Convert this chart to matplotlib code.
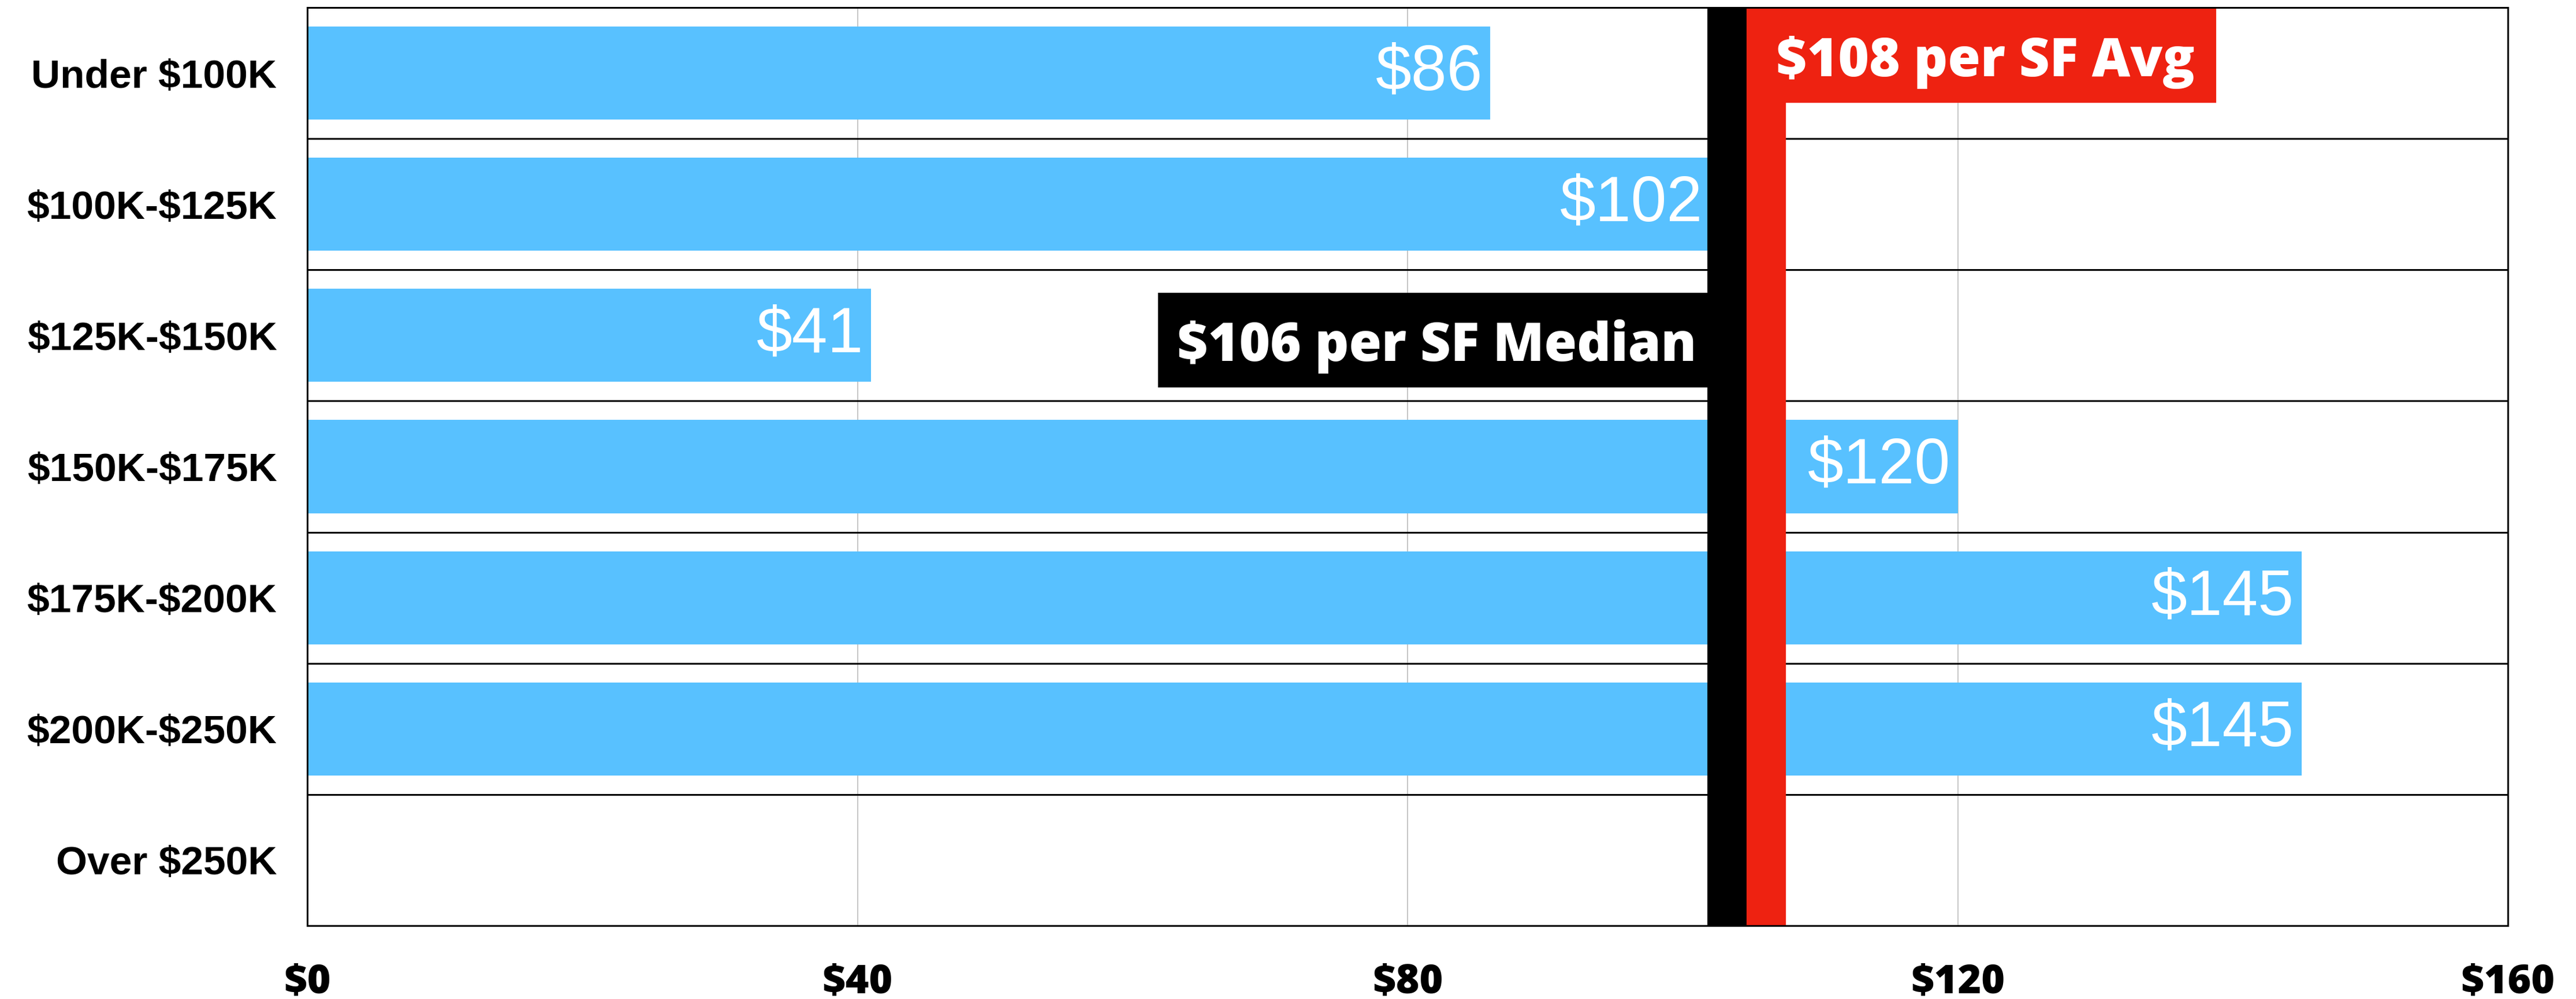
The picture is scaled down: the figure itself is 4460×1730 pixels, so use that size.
import matplotlib
matplotlib.use("Agg")
import matplotlib.pyplot as plt
from matplotlib.patches import Rectangle
import matplotlib.transforms as mtransforms
import numpy as np

plt.rcParams["text.parse_math"] = False

categories = ["Under $100K", "$100K-$125K", "$125K-$150K", "$150K-$175K",
              "$175K-$200K", "$200K-$250K", "Over $250K"]
values = [86, 102, 41, 120, 145, 145, None]
x_ticks = [0, 40, 80, 120, 160]
x_tick_labels = ["$0", "$40", "$80", "$120", "$160"]
median_value = 106
avg_value = 108
median_label = "$106 per SF Median"
avg_label = "$108 per SF Avg"

BAR_BLUE = "#58C1FF"
RED = "#EE2211"
BLACK = "#000000"
LABEL_FONT = "Open Sans"

fig = plt.figure(figsize=(44.6, 17.3), dpi=100)
ax = fig.add_axes([0.1193, 0.0734, 0.8543, 0.9191])

y = np.arange(len(categories))
for yi, v in zip(y, values):
    if v is None:
        continue
    ax.barh(yi, v, height=0.71, color=BAR_BLUE, zorder=2)
    ax.text(v - 0.55, yi, f"${v}", ha="right", va="center", color="white",
            fontsize=80, family="Liberation Sans", zorder=3)

ax.set_xlim(0, 160)
ax.set_ylim(len(categories) - 0.5, -0.5)

# grid
for gx in x_ticks[1:-1]:
    ax.axvline(gx, color="#BBBBBB", lw=1.2, zorder=1)
for sep in np.arange(0.5, len(categories) - 0.5, 1.0):
    ax.axhline(sep, color="black", lw=2.2, zorder=1.5)

# median and average lines
ax.axvspan(median_value - 4.2, median_value - 1.35, color=BLACK, zorder=4, lw=0)
ax.axvspan(avg_value - 3.35, avg_value - 0.5, color=RED, zorder=4, lw=0)

# avg label box (top, to the right of the red line)
trans = mtransforms.blended_transform_factory(ax.transData, ax.transAxes)
ax.add_patch(Rectangle((avg_value - 3.35, 0.896), 34.15, 0.104, transform=trans,
                       facecolor=RED, edgecolor="none", zorder=5, clip_on=False))
ax.text(avg_value - 1.2, 0.925, avg_label, transform=trans, ha="left", va="baseline",
        color="white", fontsize=66, family=LABEL_FONT, weight="heavy", zorder=6)

# median label box (row 3, to the left of the black line)
ax.add_patch(Rectangle((median_value - 44.15, 1.677), 39.95, 0.721,
                       facecolor=BLACK, edgecolor="none", zorder=5))
ax.text(median_value - 5.0, 2.195, median_label, ha="right", va="baseline",
        color="white", fontsize=66, family=LABEL_FONT, weight="heavy", zorder=6)

ax.set_yticks(y)
ax.set_yticklabels(categories, fontsize=50, family="Liberation Sans", weight="bold")
ax.set_xticks(x_ticks)
ax.set_xticklabels(x_tick_labels, fontsize=50, family=LABEL_FONT, weight="heavy")
ax.tick_params(axis="y", length=0, pad=38)
ax.tick_params(axis="x", length=0, pad=46)

for s in ax.spines.values():
    s.set_linewidth(2.2)
    s.set_color("black")
    s.set_zorder(7)

fig.savefig("out.png", dpi=100, facecolor="white")
